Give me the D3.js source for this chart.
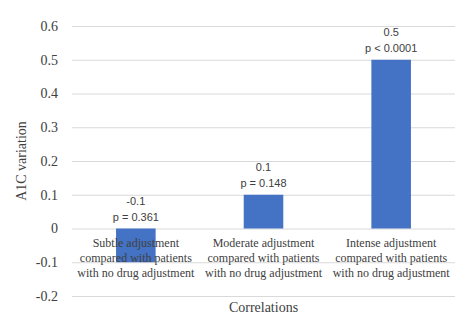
<!DOCTYPE html>
<html>
<head>
<meta charset="utf-8">
<script src="https://cdn.jsdelivr.net/npm/d3@7"></script>
<style>
  body { margin: 0; background: #fff; }
  svg { display: block; }
  .serif { font-family: "Liberation Serif", "Times New Roman", "DejaVu Serif", serif; }
  .sans { font-family: "Liberation Sans", Arial, sans-serif; }
</style>
</head>
<body>
<svg id="chart"></svg>
<script>
const categories = [
  ["Subtle adjustment", "compared with patients", "with no drug adjustment"],
  ["Moderate adjustment", "compared with patients", "with no drug adjustment"],
  ["Intense adjustment", "compared with patients", "with no drug adjustment"]
];
const values = [-0.1, 0.1, 0.5];
const pLabels = ["p = 0.361", "p = 0.148", "p < 0.0001"];
const yTicks = [-0.2, -0.1, 0, 0.1, 0.2, 0.3, 0.4, 0.5, 0.6];

const width = 464, height = 324;
const margin = { top: 26, right: 9, bottom: 28, left: 72 };

// Excel style numbers: plain hyphen for minus
const fmt = d => d === 0 ? "0" : d3.format(".1f")(d).replace("\u2212", "-");

const svg = d3.select("#chart").attr("width", width).attr("height", height);

const x = d3.scaleBand()
  .domain(d3.range(values.length))
  .range([margin.left, width - margin.right])
  .paddingInner(0.69)
  .paddingOuter(0.345);

const y = d3.scaleLinear()
  .domain([-0.2, 0.6])
  .range([height - margin.bottom, margin.top]);

// gridlines
svg.append("g")
  .selectAll("line")
  .data(yTicks)
  .enter()
  .append("line")
  .attr("x1", margin.left)
  .attr("x2", width - margin.right)
  .attr("y1", d => y(d) + 0.5)
  .attr("y2", d => y(d) + 0.5)
  .attr("stroke", "#d9d9d9")
  .attr("stroke-width", 1);

// y tick labels
const yAxis = d3.axisLeft(y).tickValues(yTicks).tickSize(0).tickPadding(0).tickFormat(fmt);
const yg = svg.append("g")
  .attr("transform", `translate(${margin.left - 14},0)`)
  .call(yAxis)
  .attr("font-family", null)
  .attr("font-size", null)
  .attr("class", "serif");
yg.select(".domain").remove();
yg.selectAll("text")
  .style("font-size", "14px")
  .attr("fill", "#404040");

// bars
svg.append("g")
  .selectAll("rect")
  .data(values)
  .enter()
  .append("rect")
  .attr("x", (d, i) => x(i))
  .attr("width", x.bandwidth())
  .attr("y", d => y(Math.max(0, d)))
  .attr("height", d => Math.abs(y(d) - y(0)))
  .attr("fill", "#4472c4");

// data labels
const lab = svg.append("g")
  .selectAll("g")
  .data(values)
  .enter()
  .append("g")
  .attr("class", "sans")
  .style("font-size", "11px")
  .attr("fill", "#404040")
  .attr("text-anchor", "middle");
lab.append("text")
  .attr("x", (d, i) => x(i) + x.bandwidth() / 2)
  .attr("y", d => y(Math.max(0, d)) - 24)
  .text(fmt);
lab.append("text")
  .attr("x", (d, i) => x(i) + x.bandwidth() / 2)
  .attr("y", d => y(Math.max(0, d)) - 8)
  .text((d, i) => pLabels[i]);

// category labels
const cat = svg.append("g")
  .selectAll("text")
  .data(categories)
  .enter()
  .append("text")
  .attr("class", "serif")
  .style("font-size", "12px")
  .attr("fill", "#404040")
  .attr("text-anchor", "middle")
  .attr("x", (d, i) => x(i) + x.bandwidth() / 2)
  .attr("y", y(0) + 18);
cat.selectAll("tspan")
  .data(d => d)
  .enter()
  .append("tspan")
  .attr("x", function() { return d3.select(this.parentNode).attr("x"); })
  .attr("dy", (d, i) => i === 0 ? 0 : 15)
  .text(d => d);

// axis titles
svg.append("text")
  .attr("class", "serif")
  .attr("transform", `translate(26,${(margin.top + height - margin.bottom) / 2}) rotate(-90)`)
  .attr("text-anchor", "middle")
  .style("font-size", "14px")
  .attr("fill", "#404040")
  .text("A1C variation");

svg.append("text")
  .attr("class", "serif")
  .attr("x", (margin.left + width - margin.right) / 2)
  .attr("y", 312)
  .attr("text-anchor", "middle")
  .style("font-size", "14px")
  .attr("fill", "#404040")
  .text("Correlations");
</script>
</body>
</html>
